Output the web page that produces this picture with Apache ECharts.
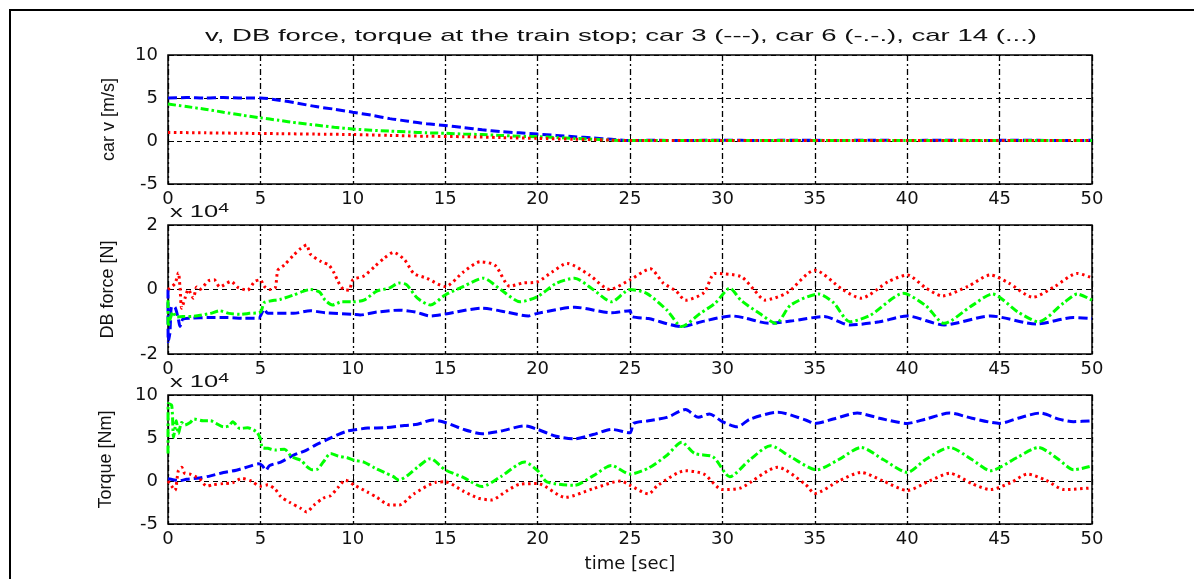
<!DOCTYPE html>
<html>
<head>
<meta charset="utf-8">
<script src="https://cdn.jsdelivr.net/npm/echarts@6/dist/echarts.min.js"></script>
<style>
  html, body { margin: 0; padding: 0; background: #fff; }
  #chart { width: 1194px; height: 579px; }
</style>
</head>
<body>
<div id="chart"></div>
<script>
// [time s, value] pairs
// top panel: car speed [m/s]
const car3Speed = [[0,5.0],[1,5.05],[2,5.0],[3,5.05],[4,5.0],[5,5.0],[6,4.75],[7,4.4],[8,4.0],[9,3.7],[10,3.35],[11,3.0],[12,2.6],[13,2.3],[14,2.0],[15,1.8],[16,1.55],[17,1.3],[18,1.1],[19,0.95],[20,0.8],[21,0.65],[22,0.5],[23,0.35],[24,0.2],[25,0.05],[26,0.08],[28,0.05],[30,0.1],[32,0.05],[34,0.1],[36,0.05],[38,0.1],[40,0.05],[42,0.1],[44,0.05],[46,0.1],[48,0.05],[50,0.08]];
const car6Speed = [[0,4.3],[1,4.0],[2,3.7],[3,3.35],[4,3.0],[5,2.7],[6,2.4],[7,2.1],[8,1.85],[9,1.6],[10,1.4],[11,1.25],[12,1.15],[13,1.05],[14,0.95],[15,0.9],[16,0.8],[17,0.75],[18,0.65],[19,0.55],[20,0.5],[21,0.4],[22,0.3],[23,0.2],[24,0.1],[25,0.05],[30,0.05],[35,0.05],[40,0.05],[45,0.05],[50,0.05]];
const car14Speed = [[0,1.0],[2,0.95],[4,0.9],[6,0.85],[8,0.8],[10,0.75],[12,0.65],[14,0.55],[16,0.5],[18,0.4],[20,0.3],[22,0.2],[24,0.1],[25,0.05],[30,0.05],[35,0.05],[40,0.05],[45,0.05],[50,0.05]];

// middle panel: DB force [N], in units of 10^4
const car3Force = [[0,0],[0.01,-1.62],[0.1,-1.36],[0.2,-0.53],[0.38,-0.55],[0.56,-0.92],[0.65,-1.15],[0.8,-0.92],[1.2,-0.89],[2.3,-0.87],[3.2,-0.87],[4.1,-0.89],[4.9,-0.89],[5.2,-0.61],[5.4,-0.74],[6.8,-0.74],[7.7,-0.66],[8.5,-0.72],[10,-0.77],[10.4,-0.79],[11.3,-0.7],[12.5,-0.64],[13.4,-0.7],[14.2,-0.82],[15,-0.76],[17,-0.58],[18.3,-0.7],[19.5,-0.82],[20,-0.74],[22,-0.55],[24,-0.72],[25,-0.66],[25.1,-0.84],[26,-0.9],[27.8,-1.15],[29,-0.98],[30.5,-0.82],[31.2,-0.88],[32.5,-1.05],[33.7,-0.98],[35.5,-0.84],[36.9,-1.1],[38.5,-1.0],[40,-0.82],[42,-1.1],[44.5,-0.82],[47,-1.07],[49,-0.87],[50,-0.9]];
const car6Force = [[0,-0.33],[0.01,-1.15],[0.1,-0.95],[0.27,-0.69],[0.45,-0.85],[0.8,-0.84],[1.4,-0.83],[2.3,-0.74],[2.8,-0.66],[3.3,-0.74],[3.9,-0.77],[4.4,-0.74],[5.0,-0.7],[5.2,-0.41],[5.5,-0.36],[6.1,-0.3],[6.8,-0.17],[7.3,-0.06],[7.7,0],[8.2,-0.08],[8.5,-0.33],[8.9,-0.48],[9.4,-0.38],[10,-0.38],[10.6,-0.33],[11.3,-0.05],[12.0,0.05],[12.5,0.2],[12.9,0.15],[13.5,-0.27],[14.2,-0.48],[15,-0.17],[16,0.1],[17.06,0.35],[18,0.0],[19.05,-0.38],[20,-0.22],[21,0.19],[22,0.35],[23,0.0],[24,-0.38],[25,0.0],[25.9,-0.12],[27,-0.64],[27.8,-1.15],[28.8,-0.74],[29.6,-0.43],[30.4,0.04],[31,-0.33],[32,-0.74],[32.9,-1.05],[33.7,-0.48],[35.2,-0.14],[36,-0.4],[36.9,-1.0],[38,-0.8],[39.8,-0.12],[41,-0.5],[42,-1.05],[43.5,-0.5],[44.6,-0.14],[46,-0.7],[47.1,-1.0],[48.5,-0.4],[49.2,-0.14],[50,-0.33]];
const car14Force = [[0,0],[0.38,0.19],[0.56,0.52],[0.65,0.06],[0.74,-0.58],[0.92,-0.27],[1.1,0],[1.37,-0.27],[1.55,0.08],[1.7,0],[2.2,0.27],[2.5,0.3],[2.8,0.08],[3.4,0.25],[3.8,0.06],[4.3,-0.02],[4.7,0.25],[5.0,0.3],[5.2,0.1],[5.5,0],[5.8,0.05],[5.95,0.6],[6.3,0.76],[6.8,1.07],[7.2,1.28],[7.5,1.38],[7.7,1.1],[8.3,0.86],[8.7,0.76],[9.0,0.5],[9.2,0.25],[9.5,0],[9.8,-0.02],[10.0,0.3],[10.6,0.42],[11.2,0.72],[11.7,0.97],[12.2,1.15],[12.8,0.92],[13.3,0.5],[14,0.35],[15,0.09],[16,0.55],[16.9,0.86],[17.7,0.75],[18.5,0.1],[19.2,0.2],[20,0.24],[20.8,0.55],[21.6,0.81],[22.8,0.45],[23.9,0.0],[25,0.3],[26.1,0.64],[26.8,0.2],[27.5,-0.05],[28,-0.33],[29,-0.1],[29.6,0.5],[31,0.4],[31.7,0.0],[32.3,-0.33],[33.5,-0.1],[35,0.6],[36.5,0.0],[37.5,-0.27],[39,0.25],[40,0.45],[41,0.05],[41.9,-0.2],[43.3,0.1],[44.5,0.45],[45.5,0.2],[46.8,-0.24],[48,0.1],[49.2,0.5],[50,0.36]];

// bottom panel: torque [Nm], in units of 10^4
const car3Torque = [[0,0.25],[0.27,0.15],[0.65,0.05],[1.0,0.2],[1.7,0.35],[2.3,0.6],[3.0,0.98],[3.7,1.25],[4.4,1.7],[4.9,2.0],[5.1,1.8],[5.3,1.25],[5.5,1.8],[6.1,2.2],[6.8,3.0],[7.5,3.6],[8.0,4.2],[8.6,4.8],[9.2,5.4],[9.7,5.8],[10.1,5.95],[10.8,6.15],[11.8,6.2],[12.8,6.45],[13.5,6.6],[14.3,7.1],[15,6.8],[16,6.0],[17,5.5],[18,5.8],[19.3,6.4],[20,6.0],[21,5.2],[22,4.9],[23,5.4],[24,6.0],[25,5.6],[25.2,6.7],[26,7.0],[27,7.4],[28,8.3],[28.7,7.4],[29.3,7.8],[30,6.9],[30.8,6.3],[31.5,7.2],[33,8.0],[34.5,7.1],[35,6.7],[36,7.2],[37.3,7.9],[38.5,7.3],[40,6.7],[41,7.2],[42.3,7.9],[43.5,7.3],[45,6.7],[46,7.3],[47.2,7.9],[48.2,7.2],[49,6.9],[50,7.0]];
const car6Torque = [[0,3.2],[0.01,9.0],[0.2,8.8],[0.3,5.1],[0.45,7.0],[0.56,5.5],[0.74,6.8],[0.9,6.5],[1.2,6.8],[1.4,7.2],[1.9,7.0],[2.3,7.0],[2.6,6.7],[3.0,6.3],[3.3,6.4],[3.5,6.9],[3.9,6.1],[4.3,6.2],[4.8,5.7],[5.0,4.9],[5.1,3.9],[5.4,3.8],[5.8,3.6],[6.3,3.7],[6.7,2.8],[7.2,2.4],[7.5,1.7],[7.8,1.3],[8.1,1.4],[8.4,2.2],[8.8,3.2],[9.2,2.9],[9.7,2.7],[10.1,2.4],[10.6,2.2],[11.2,1.5],[11.7,1.0],[12.2,0.5],[12.5,0.1],[13,0.7],[13.5,1.6],[14.2,2.6],[15,1.3],[16,0.4],[17,-0.65],[18,0.5],[19.3,2.2],[20,1.2],[20.5,-0.1],[22,-0.5],[23,0.6],[24,1.8],[25,0.8],[26,1.5],[27,3.0],[27.8,4.5],[28.5,3.2],[29.5,2.8],[30.4,0.5],[31.5,2.5],[32.6,4.1],[33.7,2.8],[35.1,1.3],[36.3,2.5],[37.5,3.9],[38.7,2.5],[40,1.0],[41,2.5],[42.3,3.9],[43.5,2.5],[44.5,1.2],[46,2.8],[47.1,3.9],[48.2,2.5],[49,1.3],[50,1.75]];
const car14Torque = [[0,0],[0.2,-0.6],[0.38,-1.1],[0.56,1.2],[0.74,1.6],[0.9,0.9],[1.2,0.8],[1.5,0.5],[1.7,0.3],[2.1,-0.6],[2.4,-0.45],[3.0,-0.3],[3.5,-0.2],[4.0,0.3],[4.5,0],[5.0,-0.6],[5.4,-0.45],[5.8,-0.95],[6.1,-1.8],[6.6,-2.5],[7.2,-3.2],[7.5,-3.6],[7.9,-2.8],[8.4,-2.0],[8.8,-1.7],[9.2,-0.75],[9.6,0.1],[10.1,-0.5],[10.8,-1.3],[11.3,-1.9],[12.0,-2.8],[12.5,-2.8],[13.3,-1.5],[14.5,-0.15],[15,-0.1],[16,-1.2],[16.8,-2.0],[17.5,-2.2],[18.3,-1.2],[19,-0.4],[20,-0.3],[21.5,-1.9],[23,-0.9],[24.5,0.0],[25,-0.5],[26,-1.5],[26.5,-0.5],[28,1.2],[29,0.8],[30,-1.0],[31,-0.8],[33,1.6],[34.5,-0.4],[35,-1.45],[36.3,0.0],[37.5,1.0],[38.7,0.0],[40,-1.1],[41.2,0.0],[42.3,0.9],[43.5,-0.3],[44.5,-1.0],[45.6,-0.2],[46.5,0.8],[47.5,0.1],[48.5,-1.0],[50,-0.8]];

const panelNames = ['car v [m/s]', 'DB force [N]', 'Torque [Nm]'];
const panelMin = [-5, -2, -5];
const panelMax = [10, 2, 10];
const panelStep = [5, 2, 5];

const font = 'DejaVu Sans, sans-serif';
const nameFont = 'Liberation Sans, Arial, sans-serif';
const gridTops = [55, 225, 395];
const gridHeight = 129;
const nameGaps = [50, 51, 53];

const grids = gridTops.map(top => ({
    left: 168, right: 102, top: top, height: gridHeight,
    show: true, borderColor: '#000', borderWidth: 1.5, backgroundColor: '#fff'
}));

const xAxes = gridTops.map((_, i) => ({
    type: 'value', gridIndex: i, min: 0, max: 50, interval: 5,
    axisLine: { show: false },
    axisTick: { inside: true, length: 6, lineStyle: { color: '#000' } },
    axisLabel: { color: '#111', fontSize: 18, fontFamily: font, margin: 6 },
    splitLine: { show: true, lineStyle: { color: '#000', width: 1.3, type: [6, 3, 2, 3] } },
    name: i === 2 ? 'time [sec]' : '',
    nameLocation: 'middle', nameGap: 31,
    nameTextStyle: { color: '#111', fontSize: 18, fontFamily: font }
}));

const yAxes = gridTops.map((_, i) => ({
    type: 'value', gridIndex: i, min: panelMin[i], max: panelMax[i], interval: panelStep[i],
    axisLine: { show: false },
    axisTick: { inside: true, length: 6, lineStyle: { color: '#000' } },
    axisLabel: { color: '#111', fontSize: 18, fontFamily: font, margin: 10 },
    splitLine: { show: true, lineStyle: { color: '#000', width: 1.2, type: [5, 4] } },
    name: panelNames[i], nameLocation: 'middle', nameGap: nameGaps[i],
    nameTextStyle: { color: '#111', fontSize: 18, fontFamily: nameFont }
}));

function line(data, i, color, dash) {
    return {
        type: 'line', xAxisIndex: i, yAxisIndex: i, data: data,
        showSymbol: false, smooth: 0.25, animation: false,
        lineStyle: { color: color, width: 3, type: dash }
    };
}

const blueDash = [9, 4];
const greenDashDot = [8, 3, 2.5, 3];
const redDot = [2.5, 3.5];

const powerLabel = {
    text: 'x 10{s|4}', fill: '#111', font: '17px ' + nameFont,
    rich: { s: { fontSize: 13, fontFamily: nameFont, verticalAlign: 'top', padding: [0, 0, 8, 0] } }
};

const option = {
    animation: false,
    grid: grids,
    xAxis: xAxes,
    yAxis: yAxes,
    series: [
        line(car3Speed, 0, '#0000ff', blueDash),
        line(car6Speed, 0, '#00ff00', greenDashDot),
        line(car14Speed, 0, '#ff0000', redDot),
        line(car3Force, 1, '#0000ff', blueDash),
        line(car6Force, 1, '#00ff00', greenDashDot),
        line(car14Force, 1, '#ff0000', redDot),
        line(car3Torque, 2, '#0000ff', blueDash),
        line(car6Torque, 2, '#00ff00', greenDashDot),
        line(car14Torque, 2, '#ff0000', redDot)
    ],
    graphic: [
        { type: 'rect', shape: { x: 10, y: 10, width: 1250, height: 650 },
          style: { fill: 'none', stroke: '#000', lineWidth: 2 }, z: 100 },
        { type: 'text', x: 621, y: 36, z: 100, scaleX: 1.62,
          style: { text: 'v, DB force, torque at the train stop; car 3 (---), car 6 (-.-.), car 14 (...)',
                   fill: '#111', font: '17px ' + nameFont, textAlign: 'center', textVerticalAlign: 'middle' } },
        { type: 'text', x: 170, y: 202, z: 100, scaleX: 1.5, style: powerLabel },
        { type: 'text', x: 170, y: 372, z: 100, scaleX: 1.5, style: powerLabel }
    ]
};

const chart = echarts.init(document.getElementById('chart'));
chart.setOption(option);
</script>
</body>
</html>
